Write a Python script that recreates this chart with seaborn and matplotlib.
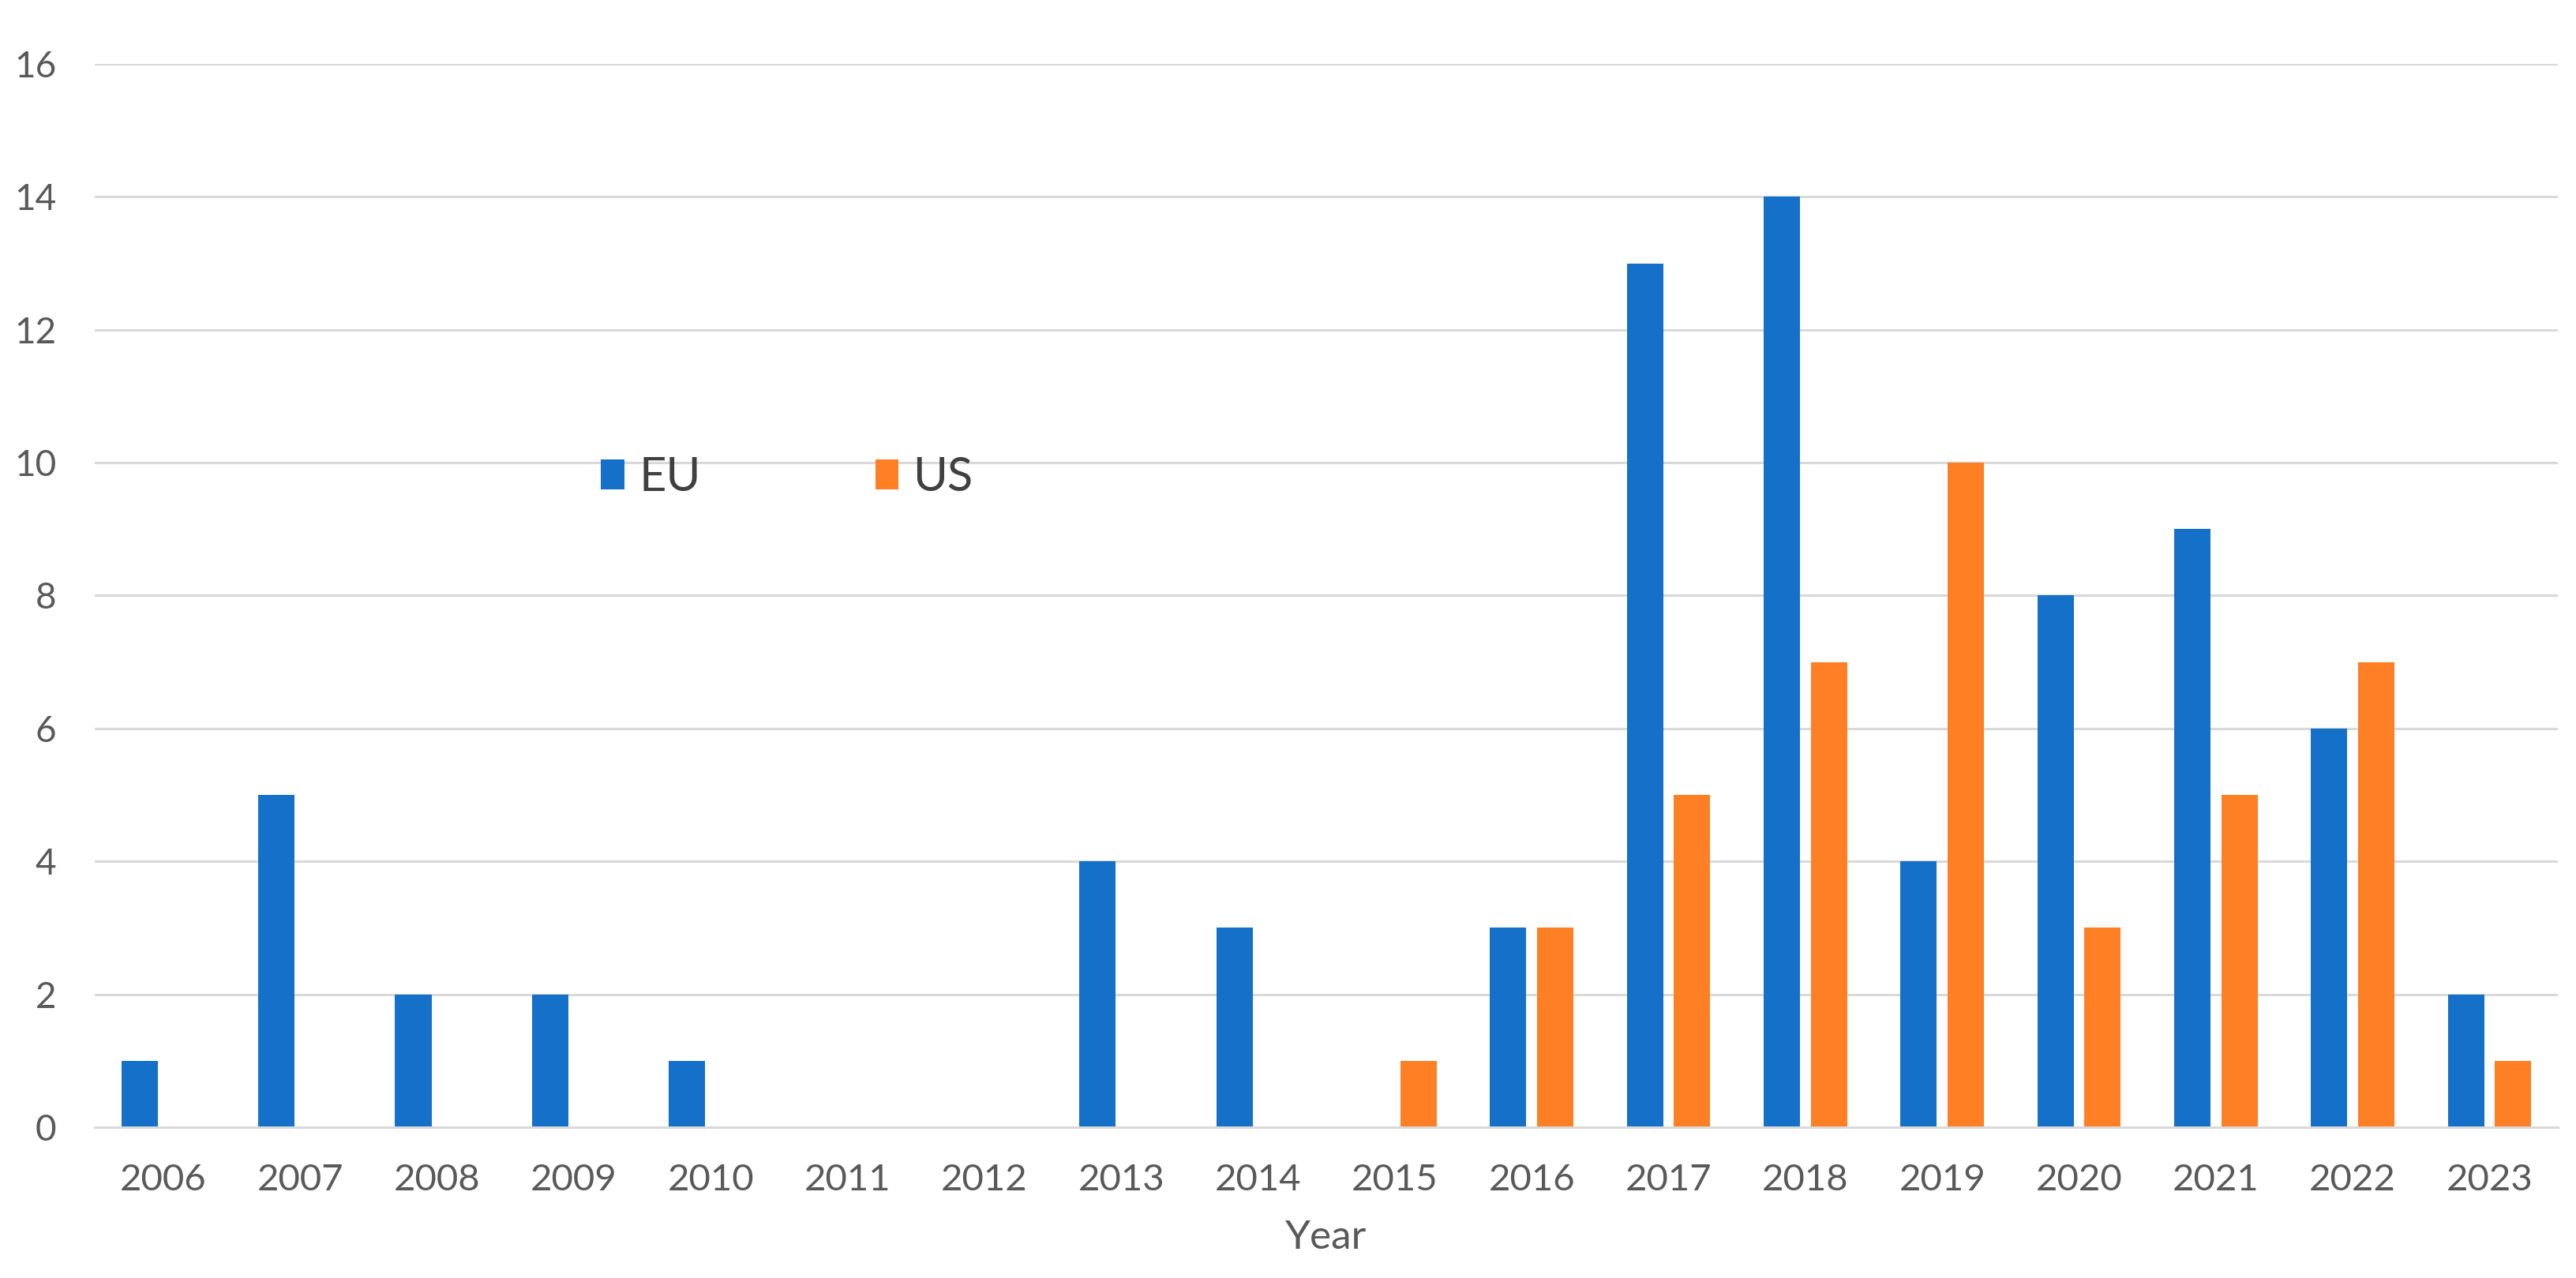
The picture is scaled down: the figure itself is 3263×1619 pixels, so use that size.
import matplotlib
matplotlib.use("Agg")
import matplotlib.pyplot as plt
import pandas as pd
import seaborn as sns

# Data
years = [2006, 2007, 2008, 2009, 2010, 2011, 2012, 2013, 2014,
         2015, 2016, 2017, 2018, 2019, 2020, 2021, 2022, 2023]
eu_counts = [1, 5, 2, 2, 1, 0, 0, 4, 3, 0, 3, 13, 14, 4, 8, 9, 6, 2]
us_counts = [0, 0, 0, 0, 0, 0, 0, 0, 0, 1, 3, 5, 7, 10, 3, 5, 7, 1]
regions = ["EU", "US"]
colors = ["#1570C9", "#FE7F24"]

df = pd.DataFrame({"Year": years, "EU": eu_counts, "US": us_counts})
df = df.melt(id_vars="Year", var_name="Region", value_name="Count")
df["Year"] = df["Year"].astype(str)

sns.set_style("white")
plt.rcParams['font.family'] = ['Lato', 'DejaVu Sans']

fig = plt.figure(figsize=(32.63, 16.19), dpi=100)
ax = fig.add_axes([0.0368, 0.118, 0.9562, 0.832])

sns.barplot(data=df, x="Year", y="Count", hue="Region", hue_order=regions,
            palette=colors, width=0.69, gap=0.23, linewidth=0,
            saturation=1, ax=ax)

ax.set_ylim(0, 16)
ax.set_yticks(range(0, 17, 2))
ax.set_xlim(-0.5, len(years) - 0.5)
ax.yaxis.grid(True, color="#D9D9D9", linewidth=2.2)
ax.set_axisbelow(True)
for s in ["top", "right", "left"]:
    ax.spines[s].set_visible(False)
ax.spines["bottom"].set_color("#D9D9D9")
ax.spines["bottom"].set_linewidth(2.2)

ax.tick_params(axis="x", length=0, pad=33, labelsize=34, labelcolor="#595959")
ax.tick_params(axis="y", length=0, pad=35, labelsize=33, labelcolor="#595959")
ax.set_ylabel("")
ax.set_xlabel("Year", fontsize=37, color="#595959", labelpad=21)

ax.legend(loc="center left", bbox_to_anchor=(0.196, 0.611), frameon=False,
          ncol=2, fontsize=43, handlelength=0.5, handleheight=0.6,
          handletextpad=0.3, columnspacing=3.7, borderpad=0,
          labelcolor="#404040")

fig.savefig("out.png", dpi=100)
